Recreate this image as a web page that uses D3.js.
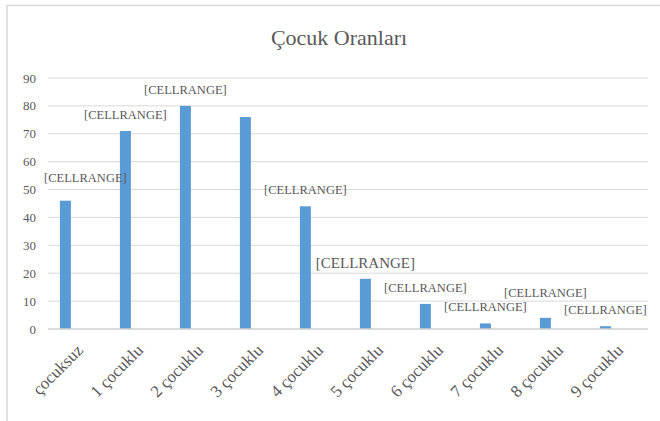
<!DOCTYPE html>
<html>
<head>
<meta charset="utf-8">
<script src="https://cdn.jsdelivr.net/npm/d3@7"></script>
</head>
<body style="margin:0">
<script>
const categories = ['çocuksuz', '1 çocuklu', '2 çocuklu', '3 çocuklu', '4 çocuklu',
  '5 çocuklu', '6 çocuklu', '7 çocuklu', '8 çocuklu', '9 çocuklu'];
const values = [46, 71, 80, 76, 44, 18, 9, 2, 4, 1];
const yTicks = [0, 10, 20, 30, 40, 50, 60, 70, 80, 90];
const labelText = '[CELLRANGE]';
// label 3 was deleted in the original, label 5 had a bigger font
const labelShown = [true, true, true, false, true, true, true, true, true, true];

const width = 660, height = 421;
const margin = { top: 78, right: 12, bottom: 92, left: 48 };
const serif = d => `"Liberation Serif", monospace`;

const svg = d3.select('body').append('svg')
  .attr('width', width).attr('height', height);

// chart frame
svg.append('path')
  .attr('d', `M7,${height}V5.5H${width}`)
  .style('fill', 'none').style('stroke', '#d9d9d9').style('stroke-width', 1.5);

svg.append('text')
  .attr('x', 339).attr('y', 45)
  .style('font-family', serif)
  .style('font-size', '22px').style('fill', '#595959')
  .attr('text-anchor', 'middle')
  .text('Çocuk Oranları');

const x = d3.scaleBand()
  .domain(categories)
  .range([margin.left, width - margin.right]);

const y = d3.scaleLinear()
  .domain([0, 90])
  .range([height - margin.bottom, margin.top]);

const barW = 11;
const barX = d => x(d) + x.bandwidth() * 0.29 - barW / 2;

// gridlines
svg.append('g')
  .selectAll('line')
  .data(yTicks.slice(1))
  .join('line')
  .attr('x1', margin.left).attr('x2', width - margin.right)
  .attr('y1', d => y(d)).attr('y2', d => y(d))
  .style('stroke', '#d9d9d9').style('stroke-width', 1);

// y axis labels
svg.append('g')
  .selectAll('text')
  .data(yTicks)
  .join('text')
  .attr('x', 36).attr('y', d => y(d))
  .attr('dy', '0.35em')
  .attr('text-anchor', 'end')
  .style('font-family', serif)
  .style('font-size', '13px').style('fill', '#595959')
  .text(d => d);

// bars
svg.append('g')
  .selectAll('rect')
  .data(categories)
  .join('rect')
  .attr('x', d => barX(d))
  .attr('y', (d, i) => y(values[i]))
  .attr('width', barW)
  .attr('height', (d, i) => y(0) - y(values[i]))
  .style('fill', '#5b9bd5');

// baseline
svg.append('line')
  .attr('x1', margin.left).attr('x2', width - margin.right)
  .attr('y1', y(0)).attr('y2', y(0))
  .style('stroke', '#d0d0d0').style('stroke-width', 1.5);

// x labels
svg.append('g')
  .selectAll('text')
  .data(categories)
  .join('text')
  .attr('transform', d => `translate(${x(d) + x.bandwidth() / 2 + 2},${y(0) + 18}) rotate(-45)`)
  .attr('dy', '0.35em')
  .attr('text-anchor', 'end')
  .style('font-family', serif)
  .style('font-size', '17px').style('fill', '#595959')
  .text(d => d);

// data labels
svg.append('g')
  .selectAll('text')
  .data(categories.filter((d, i) => labelShown[i]))
  .join('text')
  .attr('x', d => {
    const i = categories.indexOf(d);
    return barX(d) + barW / 2 + (i === 0 ? 20 : 0);
  })
  .attr('y', d => {
    const i = categories.indexOf(d);
    const lift = i === 0 ? 23 : i === 8 ? 25 : 16.5;
    return y(values[i]) - lift;
  })
  .attr('dy', '0.35em')
  .attr('text-anchor', 'middle')
  .style('font-family', serif)
  .style('fill', '#595959')
  .style('font-size', d => categories.indexOf(d) === 5 ? '15px' : '12.5px')
  .text(labelText);
</script>
</body>
</html>
